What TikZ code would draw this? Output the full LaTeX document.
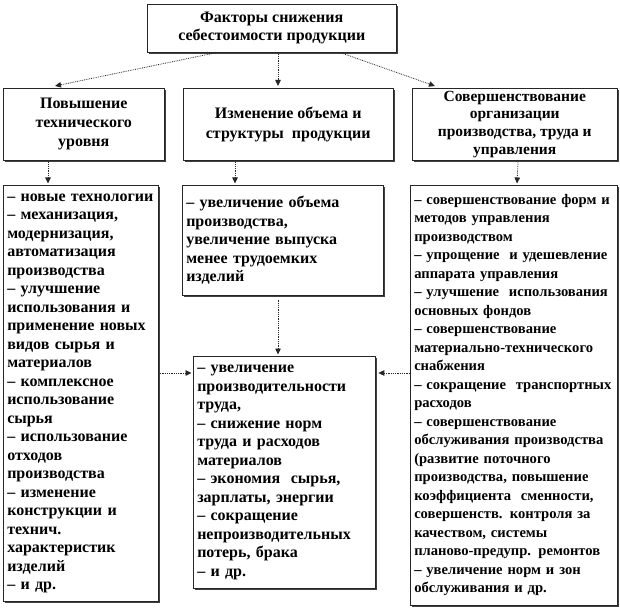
\documentclass[tikz,border=0pt]{standalone}
\usepackage{fontspec}
\setmainfont{Liberation Serif}
\usetikzlibrary{arrows.meta,shadows}
\newcommand{\jline}[1]{\makebox[\linewidth][s]{#1}}
\begin{document}
\begin{tikzpicture}[x=1pt,y=-1pt,
  box/.style={draw=black!85, line width=0.5pt, fill=white, anchor=north west,
    drop shadow={shadow xshift=1.3pt, shadow yshift=-1.3pt, fill=black!75, opacity=1},
    font=\bfseries\fontsize{16}{18.5}\selectfont},
  head/.style={box, align=center, inner sep=0pt},
  list/.style={box, align=left, inner xsep=4pt, inner ysep=0pt},
  arr/.style={densely dotted, line width=0.8pt, black!85, -{Triangle[length=6pt,width=5.5pt]}}]
\useasboundingbox (0,0) rectangle (620,609);

\node[head, minimum width=249, minimum height=48, font=\bfseries\fontsize{16}{18}\selectfont] (top) at (147,4)
  {Факторы снижения\\себестоимости продукции};

\node[head, minimum width=161, minimum height=72, font=\bfseries\fontsize{16}{19}\selectfont] (b1) at (3,88)
  {Повышение\\технического\\уровня};
\node[head, minimum width=210, minimum height=72, font=\bfseries\fontsize{16}{20}\selectfont] (b2) at (183,88)
  {Изменение объема и\\структуры\ \ продукции};
\node[head, minimum width=205, minimum height=72, font=\bfseries\fontsize{15.5}{17.7}\selectfont] (b3) at (412,88)
  {Совершенствование\\организации\\производства, труда и\\управления};

\node[list, text width=147, minimum height=416] (l1) at (3,185)
  {– новые технологии\\
   – механизация,\\
   модернизация,\\
   автоматизация\\
   производства\\
   – улучшение\\
   использования и\\
   применение новых\\
   видов сырья и\\
   материалов\\
   – комплексное\\
   использование\\
   сырья\\
   – использование\\
   отходов\\
   производства\\
   – изменение\\
   конструкции и\\
   технич.\\
   характеристик\\
   изделий\\
   – и др.};

\node[list, text width=193, minimum height=110] (m1) at (182,185)
  {– увеличение объема\\
   производства,\\
   увеличение выпуска\\
   менее трудоемких\\
   изделий};

\node[list, text width=199, minimum height=420, font=\bfseries\fontsize{14.6}{18.5}\selectfont] (r1) at (410,185)
  {\jline{– совершенствование форм и}\\
   методов управления\\
   производством\\
   \jline{– упрощение\ \ и удешевление}\\
   аппарата управления\\
   \jline{– улучшение\ \ использования}\\
   основных фондов\\
   – совершенствование\\
   материально-технического\\
   снабжения\\
   \jline{– сокращение\ \ транспортных}\\
   расходов\\
   – совершенствование\\
   \jline{обслуживания производства}\\
   (развитие поточного\\
   \jline{производства, повышение}\\
   \jline{коэффициента\ \ сменности,}\\
   \jline{совершенств. контроля за}\\
   качеством, системы\\
   \jline{планово-предупр. ремонтов}\\
   – увеличение норм и зон\\
   обслуживания и др.};

\node[list, text width=174, minimum height=232] (c1) at (193,356)
  {– увеличение\\
   производительности\\
   труда,\\
   – снижение норм\\
   труда и расходов\\
   материалов\\
   – экономия\ \ сырья,\\
   зарплаты, энергии\\
   – сокращение\\
   непроизводительных\\
   потерь, брака\\
   – и др.};

% connectors
\draw[arr] ([xshift=70pt]top.south west) -- ([xshift=52pt,yshift=2pt]b1.north west);
\draw[arr] ([xshift=131pt]top.south west) -- ([xshift=95pt,yshift=2pt]b2.north west);
\draw[arr] ([xshift=193pt]top.south west) -- ([xshift=23pt,yshift=2pt]b3.north west);

\draw[arr] ([xshift=45pt,yshift=-2pt]b1.south west) -- ([xshift=45pt,yshift=1.5pt]l1.north west);
\draw[arr] ([xshift=52pt,yshift=-2pt]b2.south west) -- ([xshift=53pt,yshift=1.5pt]m1.north west);
\draw[arr] ([xshift=106pt,yshift=-2pt]b3.south west) -- ([xshift=107pt,yshift=1.5pt]r1.north west);

\draw[arr] ([xshift=96pt,yshift=-4pt]m1.south west) -- ([xshift=85pt,yshift=1.5pt]c1.north west);
\draw[arr] ([xshift=1.3pt,yshift=-188pt]l1.north east) -- ([xshift=-1.5pt,yshift=-17pt]c1.north west);
\draw[arr] ([yshift=-188pt]r1.north west) -- ([xshift=2.8pt,yshift=-17pt]c1.north east);
\end{tikzpicture}
\end{document}
